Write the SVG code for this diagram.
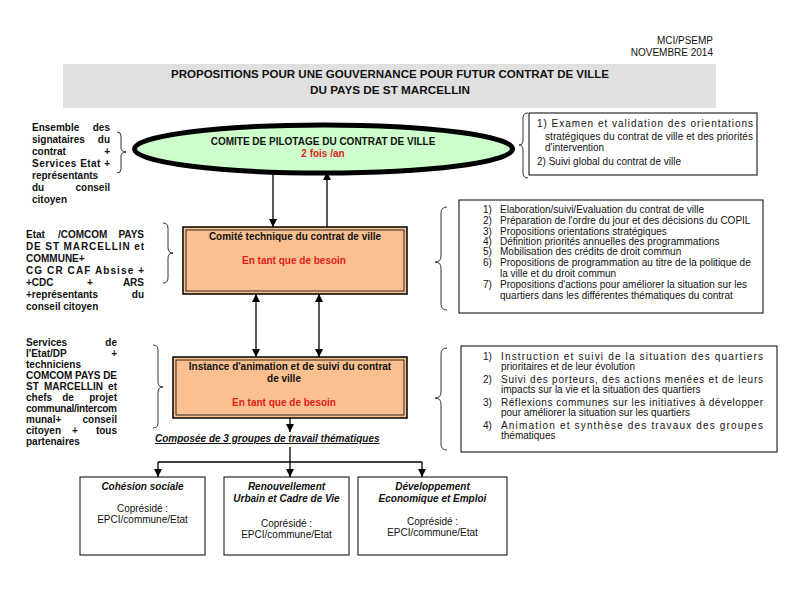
<svg xmlns="http://www.w3.org/2000/svg" width="794" height="595" viewBox="0 0 794 595">
<defs>
<style>
text{font-family:"Liberation Sans",Arial,sans-serif;font-size:10px;fill:#111}
.b{font-weight:bold}
.i{font-style:italic}
.red{fill:#e02020;font-weight:bold}
.mid{text-anchor:middle}
.end{text-anchor:end}
.box{fill:#fff;stroke:#000;stroke-width:1}
.or{fill:#fbc08f;stroke:#000}
.br{fill:none;stroke:#000;stroke-width:0.8}
.ln{fill:none;stroke:#000;stroke-width:1.3}
</style>
<marker id="ah" viewBox="0 0 10 10" refX="10" refY="5" markerWidth="8" markerHeight="8" markerUnits="userSpaceOnUse" orient="auto-start-reverse">
<path d="M0,0 L10,5 L0,10 z" fill="#000"/>
</marker>
</defs>
<rect width="794" height="595" fill="#fff"/>

<g id="header">
<text class="end" x="713" y="44">MCI/PSEMP</text>
<text class="end" x="713" y="56">NOVEMBRE 2014</text>
<rect x="63" y="64" width="653" height="44" fill="#e0e0e0"/>
<text class="b mid" x="390" y="78" textLength="438" lengthAdjust="spacingAndGlyphs">PROPOSITIONS POUR UNE GOUVERNANCE POUR FUTUR CONTRAT DE VILLE</text>
<text class="b mid" x="390" y="94" textLength="160" lengthAdjust="spacingAndGlyphs">DU PAYS DE ST MARCELLIN</text>
</g>

<g id="members-copil" class="b">
<text class="b" x="32" y="130.5">Ensemble</text><text class="b end" x="110" y="130.5">des</text>
<text class="b" x="32" y="142.5">signataires</text><text class="b end" x="110" y="142.5">du</text>
<text class="b" x="32" y="154.5">contrat</text><text class="b end" x="110" y="154.5">+</text>
<text class="b" x="32" y="166.5" textLength="78" lengthAdjust="spacing">Services Etat +</text>
<text class="b" x="32" y="178.5">représentants</text>
<text class="b" x="32" y="190.5">du</text><text class="b end" x="110" y="190.5">conseil</text>
<text class="b" x="32" y="202.5">citoyen</text>
<path class="br" d="M117,132 Q121,132 121,136 L121,148 Q121,152 126,152 Q121,152 121,156 L121,169 Q121,173 117,173"/>
</g>

<g id="copil">
<ellipse cx="323.5" cy="149" rx="189" ry="24" fill="#ccffcc" stroke="#000" stroke-width="5"/>
<text class="b mid" x="323" y="145">COMITE DE PILOTAGE DU CONTRAT DE VILLE</text>
<text class="red mid" x="323" y="157">2 fois /an</text>
</g>

<g id="copil-roles">
<path class="br" d="M528,113 Q523,113 523,118 L523,140 Q523,145 519,145 Q523,145 523,150 L523,173 Q523,178 528,178"/>
<rect class="box" x="529" y="113" width="228" height="62"/>
<text x="537" y="127" textLength="216" lengthAdjust="spacing">1) Examen et validation des orientations</text>
<text x="545" y="140" textLength="208" lengthAdjust="spacing">stratégiques du contrat de ville et des priorités</text>
<text x="545" y="151">d'intervention</text>
<text x="537" y="165">2) Suivi global du contrat de ville</text>
</g>

<g id="members-technique">
<text class="b" x="26" y="237.5">Etat</text><text class="b" x="58" y="237.5">/COMCOM</text><text class="b end" x="144" y="237.5">PAYS</text>
<text class="b" x="26" y="249.5" textLength="118" lengthAdjust="spacing">DE ST MARCELLIN et</text>
<text class="b" x="26" y="261.5">COMMUNE+</text>
<text class="b" x="26" y="273.5" textLength="118" lengthAdjust="spacing">CG CR CAF Absise +</text>
<text class="b" x="26" y="285.5">+CDC</text><text class="b mid" x="90" y="285.5">+</text><text class="b end" x="144" y="285.5">ARS</text>
<text class="b" x="26" y="297.5">+représentants</text><text class="b end" x="144" y="297.5">du</text>
<text class="b" x="26" y="309.5">conseil citoyen</text>
<path class="br" d="M163,223 Q168,223 168,228 L168,248 Q168,253 173,253 Q168,253 168,258 L168,278 Q168,283 163,283"/>
</g>

<g id="technique">
<rect class="or" x="183" y="227" width="224" height="67" stroke-width="1.5"/>
<rect x="186" y="230" width="218" height="61" fill="none" stroke="#000" stroke-width="0.8"/>
<text class="b mid" x="295" y="240">Comité technique  du contrat de ville</text>
<text class="red mid" x="294" y="264">En tant que de besoin</text>
</g>

<g id="technique-roles">
<path class="br" d="M447,207 Q441,207 441,213 L441,256 Q441,262 435,262 Q441,262 441,268 L441,304 Q441,310 447,310"/>
<rect class="box" x="459" y="200" width="304" height="113"/>
<text x="483" y="212.5">1)</text><text x="500" y="212.5">Elaboration/suivi/Evaluation du contrat de ville</text>
<text x="483" y="223.5">2)</text><text x="500" y="223.5">Préparation de l'ordre du jour et des décisions du COPIL</text>
<text x="483" y="234.5">3)</text><text x="500" y="234.5">Propositions orientations stratégiques</text>
<text x="483" y="244.5">4)</text><text x="500" y="244.5">Définition priorités annuelles des programmations</text>
<text x="483" y="254.5">5)</text><text x="500" y="254.5">Mobilisation des crédits de droit commun</text>
<text x="483" y="265.5">6)</text><text x="500" y="265.5">Propositions de programmation au titre de la politique de</text>
<text x="500" y="276.5">la ville et du droit commun</text>
<text x="483" y="287.5">7)</text><text x="500" y="287.5">Propositions d'actions pour améliorer la situation sur les</text>
<text x="500" y="298.5">quartiers dans les différentes thématiques du contrat</text>
</g>

<g id="members-animation">
<text class="b" x="26" y="345.5">Services</text><text class="b end" x="117" y="345.5">de</text>
<text class="b" x="26" y="356.5">l'Etat/DP</text><text class="b end" x="117" y="356.5">+</text>
<text class="b" x="26" y="367.5">techniciens</text>
<text class="b" x="26" y="378.5" textLength="91" lengthAdjust="spacing">COMCOM PAYS DE</text>
<text class="b" x="26" y="389.5">ST</text><text class="b" x="44" y="389.5">MARCELLIN</text><text class="b end" x="117" y="389.5">et</text>
<text class="b" x="26" y="400.5">chefs</text><text class="b mid" x="68" y="400.5">de</text><text class="b end" x="117" y="400.5">projet</text>
<text class="b" x="26" y="411.5" textLength="91" lengthAdjust="spacing">communal/intercom</text>
<text class="b" x="26" y="422.5">munal+</text><text class="b end" x="117" y="422.5">conseil</text>
<text class="b" x="26" y="433.5">citoyen</text><text class="b mid" x="75" y="433.5">+</text><text class="b end" x="117" y="433.5">tous</text>
<text class="b" x="26" y="444.5">partenaires</text>
<path class="br" d="M153,345 Q158,345 158,350 L158,382 Q158,387 163,387 Q158,387 158,392 L158,423 Q158,428 153,428"/>
</g>

<g id="animation">
<rect class="or" x="173" y="357" width="234" height="61" stroke-width="1.5"/>
<rect x="176" y="360" width="228" height="55" fill="none" stroke="#000" stroke-width="0.8"/>
<text class="b mid" x="290" y="370">Instance d'animation  et de suivi du contrat</text>
<text class="b mid" x="284" y="382">de ville</text>
<text class="red mid" x="284" y="406">En tant que de besoin</text>
</g>

<g id="animation-roles">
<path class="br" d="M447,348 Q441,348 441,354 L441,392 Q441,398 435,398 Q441,398 441,404 L441,444 Q441,450 447,450"/>
<rect class="box" x="461" y="346" width="316" height="106"/>
<text x="483" y="360">1)</text><text x="501" y="360" textLength="262" lengthAdjust="spacing">Instruction et suivi de la situation des quartiers</text>
<text x="501" y="370">prioritaires et de leur évolution</text>
<text x="483" y="383">2)</text><text x="501" y="383" textLength="262" lengthAdjust="spacing">Suivi des porteurs, des actions menées et de leurs</text>
<text x="501" y="393">impacts sur la vie et la situation des quartiers</text>
<text x="483" y="406">3)</text><text x="501" y="406" textLength="262" lengthAdjust="spacing">Réflexions communes sur les initiatives à développer</text>
<text x="501" y="416">pour améliorer la situation sur les quartiers</text>
<text x="483" y="429">4)</text><text x="501" y="429" textLength="262" lengthAdjust="spacing">Animation et synthèse des travaux des groupes</text>
<text x="501" y="439">thématiques</text>
</g>

<g id="groupes-label">
<text class="b i" x="155" y="442" text-decoration="underline">Composée de 3 groupes de travail thématiques</text>
</g>

<g id="groupe-cohesion">
<rect class="box" x="80" y="477" width="125" height="78"/>
<text class="b i mid" x="142.5" y="490">Cohésion sociale</text>
<text class="mid" x="142.5" y="512">Coprésidé :</text>
<text class="mid" x="142.5" y="523">EPCI/commune/Etat</text>
</g>
<g id="groupe-renouvellement">
<rect class="box" x="224" y="477" width="125" height="78"/>
<text class="b i mid" x="286.5" y="490">Renouvellement</text>
<text class="b i mid" x="286.5" y="502">Urbain et Cadre de Vie</text>
<text class="mid" x="286.5" y="527">Coprésidé :</text>
<text class="mid" x="286.5" y="538">EPCI/commune/Etat</text>
</g>
<g id="groupe-developpement">
<rect class="box" x="358" y="477" width="149" height="78"/>
<text class="b i mid" x="432.5" y="490">Développement</text>
<text class="b i mid" x="432.5" y="502">Economique et Emploi</text>
<text class="mid" x="432.5" y="525">Coprésidé :</text>
<text class="mid" x="432.5" y="536">EPCI/commune/Etat</text>
</g>

<g id="connectors">
<line class="ln" x1="273" y1="172" x2="273" y2="227" marker-end="url(#ah)"/>
<line class="ln" x1="327" y1="227" x2="327" y2="172" marker-end="url(#ah)"/>
<line class="ln" x1="256" y1="294" x2="256" y2="357" marker-start="url(#ah)" marker-end="url(#ah)"/>
<line class="ln" x1="319" y1="294" x2="319" y2="357" marker-start="url(#ah)" marker-end="url(#ah)"/>
<line class="ln" x1="290" y1="418" x2="290" y2="432" marker-end="url(#ah)"/>
<polyline class="ln" points="290,447 290,462"/>
<line class="ln" x1="158" y1="462" x2="422" y2="462"/>
<line class="ln" x1="158" y1="462" x2="158" y2="477" marker-end="url(#ah)"/>
<line class="ln" x1="290" y1="462" x2="290" y2="477" marker-end="url(#ah)"/>
<line class="ln" x1="422" y1="462" x2="422" y2="477" marker-end="url(#ah)"/>
</g>
</svg>
